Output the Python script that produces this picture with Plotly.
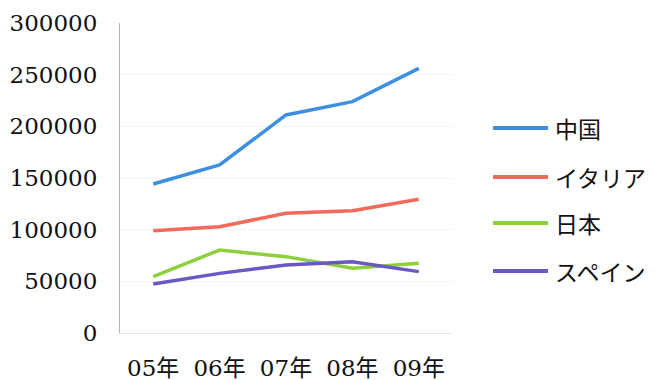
import plotly.graph_objects as go

years = ["05年", "06年", "07年", "08年", "09年"]
china = [144200, 162600, 211000, 223900, 256100]
italy = [99000, 102900, 115800, 118400, 129400]
japan = [54500, 80300, 73900, 62600, 67400]
spain = [47400, 57700, 65800, 69000, 59400]

series = [
    ("中国", china, "#3f8fe0"),
    ("イタリア", italy, "#f26a5c"),
    ("日本", japan, "#8ecf3c"),
    ("スペイン", spain, "#6a58c4"),
]

# legend layout (paper coordinates)
leg_x0, leg_x1, leg_tx = 1.1235, 1.289, 1.305
leg_y = [0.661, 0.503, 0.355, 0.200]

fig = go.Figure()
for i, (name, vals, col) in enumerate(series):
    fig.add_trace(go.Scatter(
        x=years, y=vals, name=name, mode="lines",
        line=dict(color=col, width=3.5),
        showlegend=False,
    ))
    fig.add_shape(type="line", xref="paper", yref="paper",
                  x0=leg_x0, x1=leg_x1, y0=leg_y[i], y1=leg_y[i],
                  line=dict(color=col, width=4))
    fig.add_annotation(xref="paper", yref="paper", x=leg_tx, y=leg_y[i],
                       xanchor="left", yanchor="middle", showarrow=False,
                       text=name,
                       font=dict(family="Noto Sans CJK JP", size=23, color="#111"))

fig.update_layout(
    width=658, height=380,
    margin=dict(l=120, r=206, t=23, b=47),
    paper_bgcolor="white", plot_bgcolor="white",
    xaxis=dict(
        type="category", range=[-0.5, 4.5], automargin=False,
        showgrid=False, showline=True, linecolor="#e6e6e6", linewidth=1,
        ticks="", ticklabelstandoff=14,
        tickfont=dict(family="DejaVu Serif, Noto Sans CJK JP", size=23, color="#111"),
    ),
    yaxis=dict(
        range=[0, 300000], dtick=50000, tickformat="d", automargin=False,
        showgrid=True, gridcolor="#f3f3f3", gridwidth=1,
        showline=True, linecolor="#b5b5b5", linewidth=1,
        zeroline=False, ticks="", ticklabelstandoff=17,
        tickfont=dict(family="DejaVu Serif", size=23, color="#111"),
    ),
)

fig.write_html("out.html")
